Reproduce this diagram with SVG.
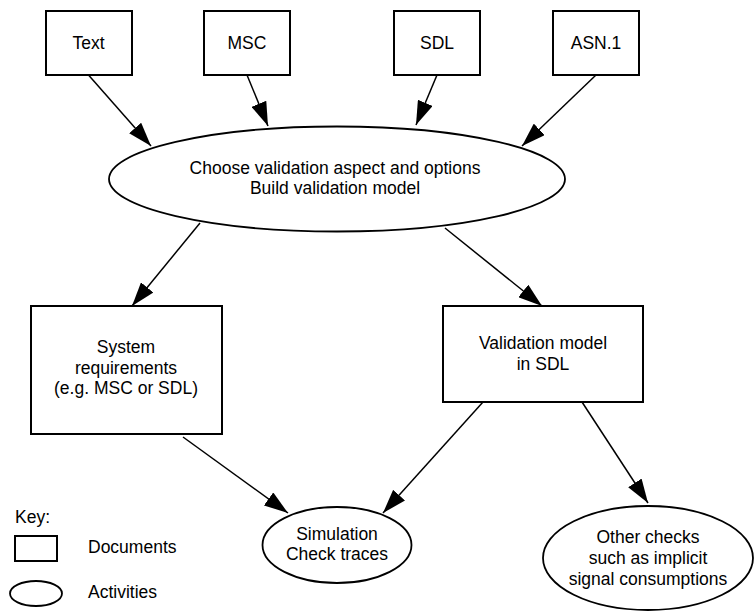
<svg xmlns="http://www.w3.org/2000/svg" width="754" height="611" viewBox="0 0 754 611">
<defs>
<marker id="ah" markerUnits="userSpaceOnUse" markerWidth="24" markerHeight="16" refX="24" refY="8" orient="auto">
<path d="M0,0 L24,8 L0,16 z" fill="#000"/>
</marker>
<style>
.box{fill:#fff;stroke:#000;stroke-width:2}
.ell{fill:#fff;stroke:#000;stroke-width:1.8}
.t{font-family:"Liberation Sans",Arial,sans-serif;font-size:17.5px;fill:#000;text-anchor:middle}
.tl{font-family:"Liberation Sans",Arial,sans-serif;font-size:17.5px;fill:#000}
.c line{stroke:#000;stroke-width:1.5;marker-end:url(#ah)}
</style>
</defs>
<rect width="754" height="611" fill="#fff"/>
<g class="c" id="connectors">
<line x1="88.5" y1="75" x2="151" y2="146"/>
<line x1="247" y1="75" x2="268" y2="126"/>
<line x1="437" y1="75" x2="416" y2="125"/>
<line x1="596" y1="75" x2="522" y2="146"/>
<line x1="200" y1="223" x2="132" y2="306"/>
<line x1="445" y1="228" x2="542" y2="306"/>
<line x1="183" y1="437" x2="288" y2="513"/>
<line x1="483" y1="402" x2="383" y2="513"/>
<line x1="582" y1="402" x2="648" y2="503"/>
</g>
<g id="text-doc"><rect class="box" x="46" y="11" width="86" height="64"/><text class="t" x="88.5" y="49">Text</text></g>
<g id="msc-doc"><rect class="box" x="204" y="11" width="86" height="64"/><text class="t" x="247" y="49">MSC</text></g>
<g id="sdl-doc"><rect class="box" x="394" y="11" width="86" height="64"/><text class="t" x="437" y="49">SDL</text></g>
<g id="asn-doc"><rect class="box" x="553" y="11" width="86" height="64"/><text class="t" x="596" y="49">ASN.1</text></g>
<g id="choose"><ellipse class="ell" cx="337" cy="179" rx="228" ry="52.5"/><text class="t" x="335" y="174">Choose validation aspect and options</text><text class="t" x="335" y="194">Build validation model</text></g>
<g id="sysreq"><rect class="box" x="31" y="306" width="191" height="128"/><text class="t" x="126" y="353">System</text><text class="t" x="126" y="374">requirements</text><text class="t" x="126" y="394">(e.g. MSC or SDL)</text></g>
<g id="valmodel"><rect class="box" x="443" y="306" width="200" height="96"/><text class="t" x="543" y="349">Validation model</text><text class="t" x="543" y="370">in SDL</text></g>
<g id="simulation"><ellipse class="ell" cx="337" cy="545" rx="74.5" ry="38"/><text class="t" x="337" y="540">Simulation</text><text class="t" x="337" y="560">Check traces</text></g>
<g id="otherchecks"><ellipse class="ell" cx="648" cy="558" rx="105" ry="52"/><text class="t" x="648" y="543">Other checks</text><text class="t" x="648" y="564">such as implicit</text><text class="t" x="648" y="585">signal consumptions</text></g>
<g id="key"><text class="tl" x="15" y="523">Key:</text><rect class="box" x="15" y="536" width="42" height="25"/><text class="tl" x="88" y="553">Documents</text><ellipse class="ell" cx="36" cy="593.5" rx="26" ry="12.5"/><text class="tl" x="88" y="598">Activities</text></g>
</svg>
